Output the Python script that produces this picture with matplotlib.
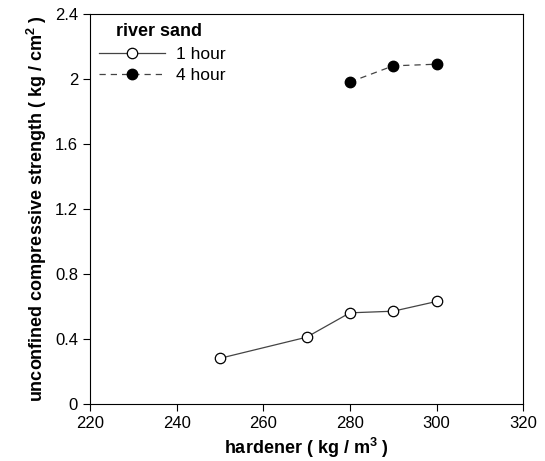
import matplotlib
matplotlib.use("Agg")
import matplotlib.pyplot as plt

plt.rcParams['font.family'] = ['Liberation Sans', 'DejaVu Sans']

x_1h = [250, 270, 280, 290, 300]
y_1h = [0.28, 0.41, 0.56, 0.57, 0.63]
x_4h = [280, 290, 300]
y_4h = [1.98, 2.08, 2.09]
xticks = [220, 240, 260, 280, 300, 320]
yticks = [0, 0.4, 0.8, 1.2, 1.6, 2, 2.4]
ytick_labels = ['0', '0.4', '0.8', '1.2', '1.6', '2', '2.4']

fig = plt.figure(figsize=(5.45, 4.61), dpi=100)
ax = fig.add_axes([0.165, 0.124, 0.795, 0.846])

ax.plot(x_1h, y_1h, color='#444444', lw=0.9, marker='o', ms=7.5,
        mfc='white', mec='black', mew=0.9, label='1 hour')
ax.plot(x_4h, y_4h, color='#444444', lw=0.9, ls=(0, (5, 4)), marker='o', ms=7.5,
        mfc='black', mec='black', label='4 hour')

ax.set_xlim(220, 320)
ax.set_ylim(0, 2.4)
ax.set_xticks(xticks)
ax.set_yticks(yticks)
ax.set_yticklabels(ytick_labels)
ax.tick_params(direction='out', length=5, width=0.8, labelsize=12, colors='black')
for s in ax.spines.values():
    s.set_linewidth(0.8)

ax.set_xlabel('hardener ( kg / m$^\\mathregular{3}$ )', fontsize=13, fontweight='bold')
ax.set_ylabel('unconfined compressive strength ( kg / cm$^\\mathregular{2}$ )', fontsize=13, fontweight='bold')

leg = ax.legend(title='river sand', loc='upper left', frameon=False, fontsize=12.5,
                title_fontproperties={'weight': 'bold', 'size': 13},
                handlelength=3.8, borderaxespad=0.15, labelspacing=0.35, handletextpad=0.6)
leg._legend_box.align = 'left'
leg.get_title().set_x(17)

fig.savefig('out.png', dpi=100)
